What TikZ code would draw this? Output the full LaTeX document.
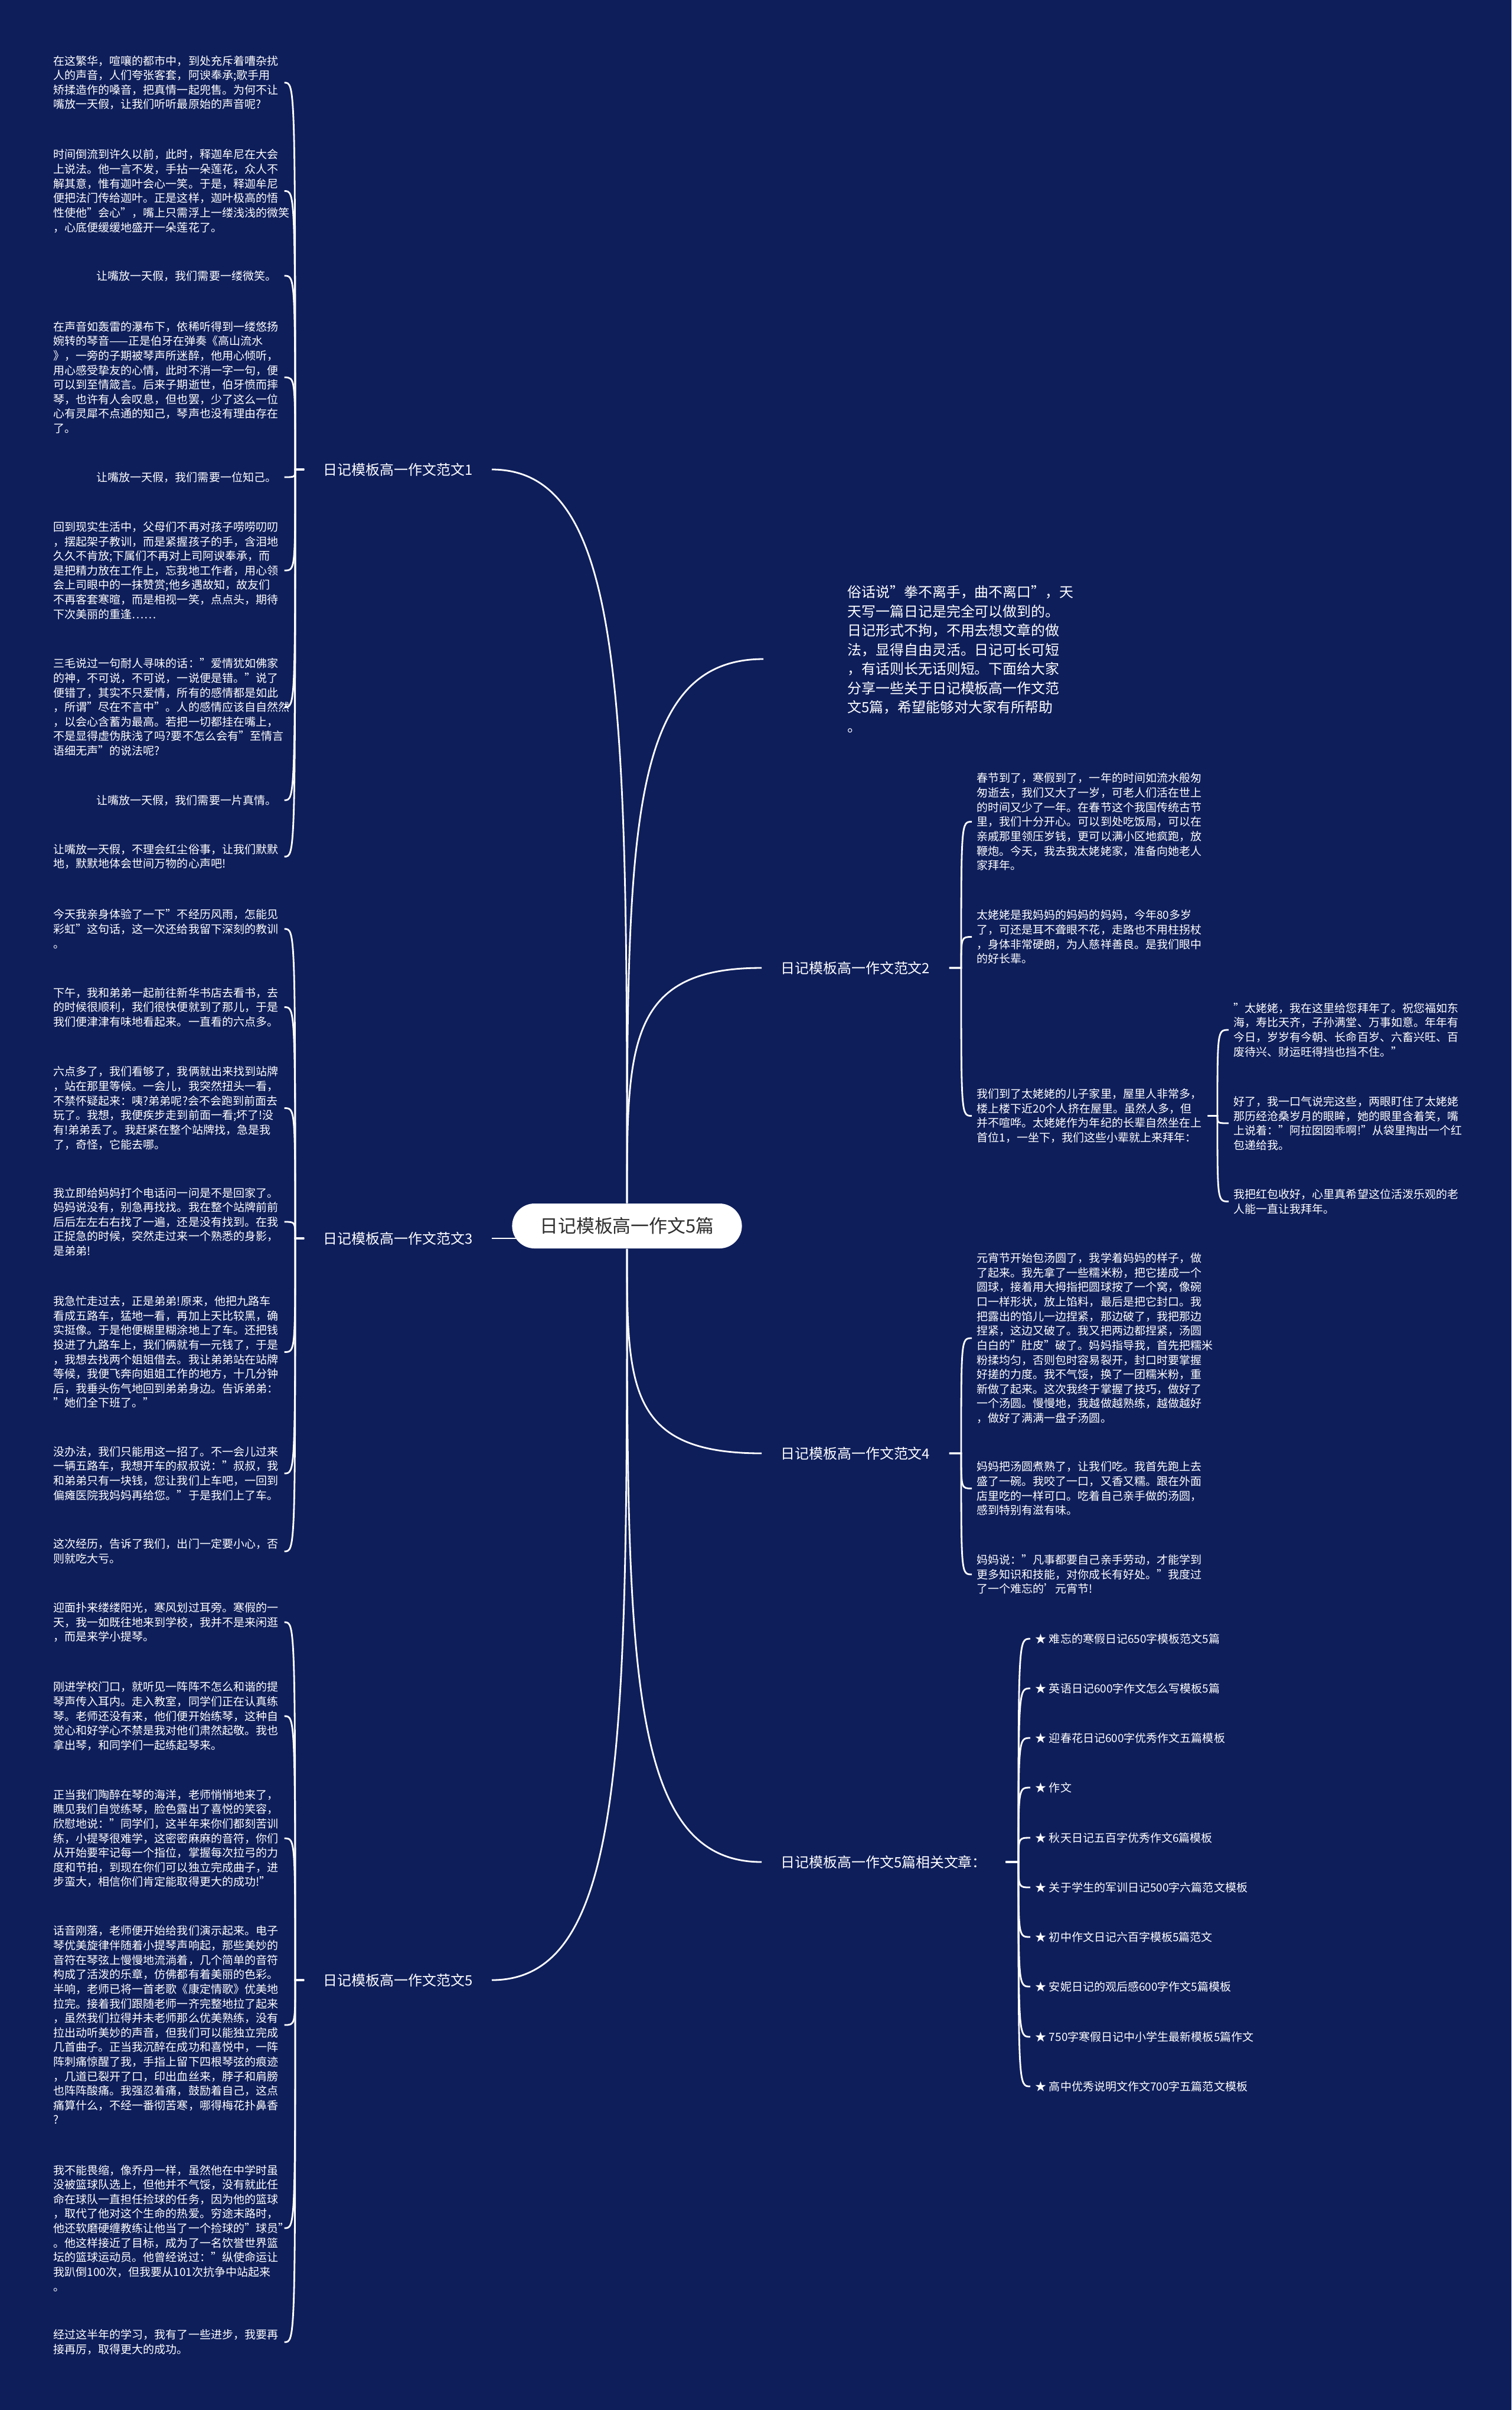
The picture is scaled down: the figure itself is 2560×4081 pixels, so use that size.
\documentclass[tikz,border=0pt]{standalone}
\usepackage{fontspec}
\setmainfont{Noto Sans CJK SC}
\usetikzlibrary{backgrounds}
\definecolor{navybg}{HTML}{0E1E5B}
\definecolor{rootgray}{HTML}{2E2E2E}
\newcommand\leaffont{\fontsize{5.41pt}{7pt}\selectfont}
\newcommand\branchfont{\fontsize{6.8pt}{9.25pt}\selectfont}
\newcommand\rootfont{\fontsize{8.8pt}{10pt}\selectfont}

\begin{document}
\begin{tikzpicture}[x=0.01cm, y=-0.01cm,
  link/.style={draw=white, line width=0.8pt},
  root/.style={fill=white, rounded corners=0.38cm, minimum width=3.89cm, minimum height=0.76cm, inner sep=0pt, font=\rootfont, text=rootgray},
  branch/.style={font=\branchfont, text=white, inner xsep=0.32cm, inner ysep=0.05cm},
  leaf/.style={font=\leaffont, text=white, text width=3.82cm, align=left, inner xsep=0.08cm, inner ysep=0pt, anchor=west},
  item/.style={font=\leaffont, text=white, inner xsep=0.08cm, inner ysep=0pt, anchor=west},
  blurb/.style={font=\branchfont, text=white, text width=3.7cm, align=left, inner sep=0pt, anchor=west}]

%%% Root
\node[root] (root) at (1062,2076) {日记模板高一作文5篇};

%%% Branch labels
\node[branch, anchor=east] (fw1) at (833,795) {日记模板高一作文范文1};
\node[branch, anchor=west] (fw2) at (1290,1639) {日记模板高一作文范文2};
\node[branch, anchor=east] (fw3) at (833,2097) {日记模板高一作文范文3};
\node[branch, anchor=west] (fw4) at (1290,2461) {日记模板高一作文范文4};
\node[branch, anchor=west] (rel) at (1290,3153) {日记模板高一作文5篇相关文章：};
\node[branch, anchor=east] (fw5) at (833,3353) {日记模板高一作文范文5};

% Intro text (its line stops short of the text)
\coordinate (introk) at (1293,1116);
\node[blurb] (intro) at (1435,1116) {俗话说"拳不离手，曲不离口"，天\\
天写一篇日记是完全可以做到的。\\
日记形式不拘，不用去想文章的做\\
法，显得自由灵活。日记可长可短\\
，有话则长无话则短。下面给大家\\
分享一些关于日记模板高一作文范\\
文5篇，希望能够对大家有所帮助\\
。};

%%% Branch 1 leaves
\node[leaf] (fw1a) at (82,140) {在这繁华，喧嚷的都市中，到处充斥着嘈杂扰\\
人的声音，人们夸张客套，阿谀奉承;歌手用\\
矫揉造作的嗓音，把真情一起兜售。为何不让\\
嘴放一天假，让我们听听最原始的声音呢?};
\node[leaf] (fw1b) at (82,323.5) {时间倒流到许久以前，此时，释迦牟尼在大会\\
上说法。他一言不发，手拈一朵莲花，众人不\\
解其意，惟有迦叶会心一笑。于是，释迦牟尼\\
便把法门传给迦叶。正是这样，迦叶极高的悟\\
性使他"会心"，嘴上只需浮上一缕浅浅的微笑\\
，心底便缓缓地盛开一朵莲花了。};
\node[leaf] (fw1c) at (82,467) {\hspace*{0.73cm}让嘴放一天假，我们需要一缕微笑。};
\node[leaf] (fw1d) at (82,639) {在声音如轰雷的瀑布下，依稀听得到一缕悠扬\\
婉转的琴音——正是伯牙在弹奏《高山流水\\
》，一旁的子期被琴声所迷醉，他用心倾听，\\
用心感受挚友的心情，此时不消一字一句，便\\
可以到至情箴言。后来子期逝世，伯牙愤而摔\\
琴，也许有人会叹息，但也罢，少了这么一位\\
心有灵犀不点通的知己，琴声也没有理由存在\\
了。};
\node[leaf] (fw1e) at (82,808) {\hspace*{0.73cm}让嘴放一天假，我们需要一位知己。};
\node[leaf] (fw1f) at (82,966) {回到现实生活中，父母们不再对孩子唠唠叨叨\\
，摆起架子教训，而是紧握孩子的手，含泪地\\
久久不肯放;下属们不再对上司阿谀奉承，而\\
是把精力放在工作上，忘我地工作者，用心领\\
会上司眼中的一抹赞赏;他乡遇故知，故友们\\
不再客套寒暄，而是相视一笑，点点头，期待\\
下次美丽的重逢……};
\node[leaf] (fw1g) at (82,1197.5) {三毛说过一句耐人寻味的话："爱情犹如佛家\\
的神，不可说，不可说，一说便是错。"说了\\
便错了，其实不只爱情，所有的感情都是如此\\
，所谓"尽在不言中"。人的感情应该自自然然\\
，以会心含蓄为最高。若把一切都挂在嘴上，\\
不是显得虚伪肤浅了吗?要不怎么会有"至情言\\
语细无声"的说法呢?};
\node[leaf] (fw1h) at (82,1355) {\hspace*{0.73cm}让嘴放一天假，我们需要一片真情。};
\node[leaf] (fw1i) at (82,1450.5) {让嘴放一天假，不理会红尘俗事，让我们默默\\
地，默默地体会世间万物的心声吧!};

%%% Branch 2 leaves
\node[leaf] (fw2a) at (1646,1391.5) {春节到了，寒假到了，一年的时间如流水般匆\\
匆逝去，我们又大了一岁，可老人们活在世上\\
的时间又少了一年。在春节这个我国传统古节\\
里，我们十分开心。可以到处吃饭局，可以在\\
亲戚那里领压岁钱，更可以满小区地疯跑，放\\
鞭炮。今天，我去我太姥姥家，准备向她老人\\
家拜年。};
\node[leaf] (fw2b) at (1646,1586.5) {太姥姥是我妈妈的妈妈的妈妈，今年80多岁\\
了，可还是耳不聋眼不花，走路也不用柱拐杖\\
，身体非常硬朗，为人慈祥善良。是我们眼中\\
的好长辈。};
\node[leaf] (fw2c) at (1646,1889.5) {我们到了太姥姥的儿子家里，屋里人非常多，\\
楼上楼下近20个人挤在屋里。虽然人多，但\\
并不喧哗。太姥姥作为年纪的长辈自然坐在上\\
首位1，一坐下，我们这些小辈就上来拜年：};
\node[leaf] (fw2c1) at (2081,1744) {"太姥姥，我在这里给您拜年了。祝您福如东\\
海，寿比天齐，子孙满堂、万事如意。年年有\\
今日，岁岁有今朝、长命百岁、六畜兴旺、百\\
废待兴、财运旺得挡也挡不住。"};
\node[leaf] (fw2c2) at (2081,1902) {好了，我一口气说完这些，两眼盯住了太姥姥\\
那历经沧桑岁月的眼眸，她的眼里含着笑，嘴\\
上说着："阿拉囡囡乖啊!"从袋里掏出一个红\\
包递给我。};
\node[leaf] (fw2c3) at (2081,2034.5) {我把红包收好，心里真希望这位活泼乐观的老\\
人能一直让我拜年。};

%%% Branch 3 leaves
\node[leaf] (fw3a) at (82,1573) {今天我亲身体验了一下"不经历风雨，怎能见\\
彩虹"这句话，这一次还给我留下深刻的教训\\
。};
\node[leaf] (fw3b) at (82,1705.5) {下午，我和弟弟一起前往新华书店去看书，去\\
的时候很顺利，我们很快便就到了那儿，于是\\
我们便津津有味地看起来。一直看的六点多。};
\node[leaf] (fw3c) at (82,1876.5) {六点多了，我们看够了，我俩就出来找到站牌\\
，站在那里等候。一会儿，我突然扭头一看，\\
不禁怀疑起来：咦?弟弟呢?会不会跑到前面去\\
玩了。我想，我便疾步走到前面一看;坏了!没\\
有!弟弟丢了。我赶紧在整个站牌找，急是我\\
了，奇怪，它能去哪。};
\node[leaf] (fw3d) at (82,2069) {我立即给妈妈打个电话问一问是不是回家了。\\
妈妈说没有，别急再找找。我在整个站牌前前\\
后后左左右右找了一遍，还是没有找到。在我\\
正捉急的时候，突然走过来一个熟悉的身影，\\
是弟弟!};
\node[leaf] (fw3e) at (82,2289.5) {我急忙走过去，正是弟弟!原来，他把九路车\\
看成五路车，猛地一看，再加上天比较黑，确\\
实挺像。于是他便糊里糊涂地上了车。还把钱\\
投进了九路车上，我们俩就有一元钱了，于是\\
，我想去找两个姐姐借去。我让弟弟站在站牌\\
等候，我便飞奔向姐姐工作的地方，十几分钟\\
后，我垂头伤气地回到弟弟身边。告诉弟弟：\\
"她们全下班了。"};
\node[leaf] (fw3f) at (82,2495) {没办法，我们只能用这一招了。不一会儿过来\\
一辆五路车，我想开车的叔叔说："叔叔，我\\
和弟弟只有一块钱，您让我们上车吧，一回到\\
偏瘫医院我妈妈再给您。"于是我们上了车。};
\node[leaf] (fw3g) at (82,2627) {这次经历，告诉了我们，出门一定要小心，否\\
则就吃大亏。};

%%% Branch 4 leaves
\node[leaf] (fw4a) at (1646,2266) {元宵节开始包汤圆了，我学着妈妈的样子，做\\
了起来。我先拿了一些糯米粉，把它搓成一个\\
圆球，接着用大拇指把圆球按了一个窝，像碗\\
口一样形状，放上馅料，最后是把它封口。我\\
把露出的馅儿一边捏紧，那边破了，我把那边\\
捏紧，这边又破了。我又把两边都捏紧，汤圆\\
白白的"肚皮"破了。妈妈指导我，首先把糯米\\
粉揉均匀，否则包时容易裂开，封口时要掌握\\
好搓的力度。我不气馁，换了一团糯米粉，重\\
新做了起来。这次我终于掌握了技巧，做好了\\
一个汤圆。慢慢地，我越做越熟练，越做越好\\
，做好了满满一盘子汤圆。};
\node[leaf] (fw4b) at (1646,2520.5) {妈妈把汤圆煮熟了，让我们吃。我首先跑上去\\
盛了一碗。我咬了一口，又香又糯。跟在外面\\
店里吃的一样可口。吃着自己亲手做的汤圆，\\
感到特别有滋有味。};
\node[leaf] (fw4c) at (1646,2666) {妈妈说："凡事都要自己亲手劳动，才能学到\\
更多知识和技能，对你成长有好处。"我度过\\
了一个难忘的'元宵节!};

%%% Related articles
\node[item] (rel1) at (1745,2775) {★ 难忘的寒假日记650字模板范文5篇};
\node[item] (rel2) at (1745,2859) {★ 英语日记600字作文怎么写模板5篇};
\node[item] (rel3) at (1745,2943) {★ 迎春花日记600字优秀作文五篇模板};
\node[item] (rel4) at (1745,3027) {★ 作文};
\node[item] (rel5) at (1745,3112) {★ 秋天日记五百字优秀作文6篇模板};
\node[item] (rel6) at (1745,3196) {★ 关于学生的军训日记500字六篇范文模板};
\node[item] (rel7) at (1745,3280) {★ 初中作文日记六百字模板5篇范文};
\node[item] (rel8) at (1745,3364) {★ 安妮日记的观后感600字作文5篇模板};
\node[item] (rel9) at (1745,3449) {★ 750字寒假日记中小学生最新模板5篇作文};
\node[item] (rel10) at (1745,3533) {★ 高中优秀说明文作文700字五篇范文模板};

%%% Branch 5 leaves
\node[leaf] (fw5a) at (82,2747) {迎面扑来缕缕阳光，寒风划过耳旁。寒假的一\\
天，我一如既往地来到学校，我并不是来闲逛\\
，而是来学小提琴。};
\node[leaf] (fw5b) at (82,2906) {刚进学校门口，就听见一阵阵不怎么和谐的提\\
琴声传入耳内。走入教室，同学们正在认真练\\
琴。老师还没有来，他们便开始练琴，这种自\\
觉心和好学心不禁是我对他们肃然起敬。我也\\
拿出琴，和同学们一起练起琴来。};
\node[leaf] (fw5c) at (82,3113) {正当我们陶醉在琴的海洋，老师悄悄地来了，\\
瞧见我们自觉练琴，脸色露出了喜悦的笑容，\\
欣慰地说："同学们，这半年来你们都刻苦训\\
练，小提琴很难学，这密密麻麻的音符，你们\\
从开始要牢记每一个指位，掌握每次拉弓的力\\
度和节拍，到现在你们可以独立完成曲子，进\\
步蛮大，相信你们肯定能取得更大的成功!"};
\node[leaf] (fw5d) at (82,3429) {话音刚落，老师便开始给我们演示起来。电子\\
琴优美旋律伴随着小提琴声响起，那些美妙的\\
音符在琴弦上慢慢地流淌着，几个简单的音符\\
构成了活泼的乐章，仿佛都有着美丽的色彩。\\
半响，老师已将一首老歌《康定情歌》优美地\\
拉完。接着我们跟随老师一齐完整地拉了起来\\
，虽然我们拉得并未老师那么优美熟练，没有\\
拉出动听美妙的声音，但我们可以能独立完成\\
几首曲子。正当我沉醉在成功和喜悦中，一阵\\
阵刺痛惊醒了我，手指上留下四根琴弦的痕迹\\
，几道已裂开了口，印出血丝来，脖子和肩膀\\
也阵阵酸痛。我强忍着痛，鼓励着自己，这点\\
痛算什么，不经一番彻苦寒，哪得梅花扑鼻香\\
?};
\node[leaf] (fw5e) at (82,3773) {我不能畏缩，像乔丹一样，虽然他在中学时虽\\
没被篮球队选上，但他并不气馁，没有就此任\\
命在球队一直担任捡球的任务，因为他的篮球\\
，取代了他对这个生命的热爱。穷途末路时，\\
他还软磨硬缠教练让他当了一个捡球的"球员"\\
。他这样接近了目标，成为了一名饮誉世界篮\\
坛的篮球运动员。他曾经说过："纵使命运让\\
我趴倒100次，但我要从101次抗争中站起来\\
。};
\node[leaf] (fw5f) at (82,3966) {经过这半年的学习，我有了一些进步，我要再\\
接再厉，取得更大的成功。};

% Bracket trunks
\coordinate (fw1k) at (500,795);
\coordinate (fw3k) at (500,2097);
\coordinate (fw5k) at (500,3353);
\coordinate (fw2k) at (1628,1639);
\coordinate (fw2ck) at (2062,1889.5);
\coordinate (fw4k) at (1628,2461);
\coordinate (relk) at (1725,3153);

\begin{scope}[on background layer]
  % Canvas
  \fill[navybg] (0,0) rectangle (2560,4081);

  % Root to branches
  \draw[link] (root.north) to[out=90, in=0, out distance=8.33cm, in distance=2.29cm] (fw1.east);
  \draw[link] (root.north) to[out=90, in=180, out distance=6.18cm, in distance=2.31cm] (introk);
  \draw[link] (root.north) to[out=90, in=180, out distance=2.67cm, in distance=2.28cm] (fw2.west);
  \draw[link] (fw3.east) -- (fw3.east -| root.center);
  \draw[link] (root.south) to[out=270, in=180, out distance=2.32cm, in distance=2.28cm] (fw4.west);
  \draw[link] (root.south) to[out=270, in=180, out distance=6.96cm, in distance=2.28cm] (rel.west);
  \draw[link] (root.south) to[out=270, in=0, out distance=8.3cm, in distance=2.29cm] (fw5.east);

  % Branch 1
  \draw[link] (fw1.west) -- (fw1k) .. controls (fw1k |- fw1a.east) .. (fw1a.east);
  \draw[link] (fw1.west) -- (fw1k) .. controls (fw1k |- fw1b.east) .. (fw1b.east);
  \draw[link] (fw1.west) -- (fw1k) .. controls (fw1k |- fw1c.east) .. (fw1c.east);
  \draw[link] (fw1.west) -- (fw1k) .. controls (fw1k |- fw1d.east) .. (fw1d.east);
  \draw[link] (fw1.west) -- (fw1k) .. controls (fw1k |- fw1e.east) .. (fw1e.east);
  \draw[link] (fw1.west) -- (fw1k) .. controls (fw1k |- fw1f.east) .. (fw1f.east);
  \draw[link] (fw1.west) -- (fw1k) .. controls (fw1k |- fw1g.east) .. (fw1g.east);
  \draw[link] (fw1.west) -- (fw1k) .. controls (fw1k |- fw1h.east) .. (fw1h.east);
  \draw[link] (fw1.west) -- (fw1k) .. controls (fw1k |- fw1i.east) .. (fw1i.east);

  % Branch 2
  \draw[link] (fw2.east) -- (fw2k) .. controls (fw2k |- fw2a.west) .. (fw2a.west);
  \draw[link] (fw2.east) -- (fw2k) .. controls (fw2k |- fw2b.west) .. (fw2b.west);
  \draw[link] (fw2.east) -- (fw2k) .. controls (fw2k |- fw2c.west) .. (fw2c.west);
  \draw[link] (fw2c.east) -- (fw2ck) .. controls (fw2ck |- fw2c1.west) .. (fw2c1.west);
  \draw[link] (fw2c.east) -- (fw2ck) .. controls (fw2ck |- fw2c2.west) .. (fw2c2.west);
  \draw[link] (fw2c.east) -- (fw2ck) .. controls (fw2ck |- fw2c3.west) .. (fw2c3.west);

  % Branch 3
  \draw[link] (fw3.west) -- (fw3k) .. controls (fw3k |- fw3a.east) .. (fw3a.east);
  \draw[link] (fw3.west) -- (fw3k) .. controls (fw3k |- fw3b.east) .. (fw3b.east);
  \draw[link] (fw3.west) -- (fw3k) .. controls (fw3k |- fw3c.east) .. (fw3c.east);
  \draw[link] (fw3.west) -- (fw3k) .. controls (fw3k |- fw3d.east) .. (fw3d.east);
  \draw[link] (fw3.west) -- (fw3k) .. controls (fw3k |- fw3e.east) .. (fw3e.east);
  \draw[link] (fw3.west) -- (fw3k) .. controls (fw3k |- fw3f.east) .. (fw3f.east);
  \draw[link] (fw3.west) -- (fw3k) .. controls (fw3k |- fw3g.east) .. (fw3g.east);

  % Branch 4
  \draw[link] (fw4.east) -- (fw4k) .. controls (fw4k |- fw4a.west) .. (fw4a.west);
  \draw[link] (fw4.east) -- (fw4k) .. controls (fw4k |- fw4b.west) .. (fw4b.west);
  \draw[link] (fw4.east) -- (fw4k) .. controls (fw4k |- fw4c.west) .. (fw4c.west);

  % Related articles
  \draw[link] (rel.east) -- (relk) .. controls (relk |- rel1.west) .. (rel1.west);
  \draw[link] (rel.east) -- (relk) .. controls (relk |- rel2.west) .. (rel2.west);
  \draw[link] (rel.east) -- (relk) .. controls (relk |- rel3.west) .. (rel3.west);
  \draw[link] (rel.east) -- (relk) .. controls (relk |- rel4.west) .. (rel4.west);
  \draw[link] (rel.east) -- (relk) .. controls (relk |- rel5.west) .. (rel5.west);
  \draw[link] (rel.east) -- (relk) .. controls (relk |- rel6.west) .. (rel6.west);
  \draw[link] (rel.east) -- (relk) .. controls (relk |- rel7.west) .. (rel7.west);
  \draw[link] (rel.east) -- (relk) .. controls (relk |- rel8.west) .. (rel8.west);
  \draw[link] (rel.east) -- (relk) .. controls (relk |- rel9.west) .. (rel9.west);
  \draw[link] (rel.east) -- (relk) .. controls (relk |- rel10.west) .. (rel10.west);

  % Branch 5
  \draw[link] (fw5.west) -- (fw5k) .. controls (fw5k |- fw5a.east) .. (fw5a.east);
  \draw[link] (fw5.west) -- (fw5k) .. controls (fw5k |- fw5b.east) .. (fw5b.east);
  \draw[link] (fw5.west) -- (fw5k) .. controls (fw5k |- fw5c.east) .. (fw5c.east);
  \draw[link] (fw5.west) -- (fw5k) .. controls (fw5k |- fw5d.east) .. (fw5d.east);
  \draw[link] (fw5.west) -- (fw5k) .. controls (fw5k |- fw5e.east) .. (fw5e.east);
  \draw[link] (fw5.west) -- (fw5k) .. controls (fw5k |- fw5f.east) .. (fw5f.east);
\end{scope}

\end{tikzpicture}
\end{document}
